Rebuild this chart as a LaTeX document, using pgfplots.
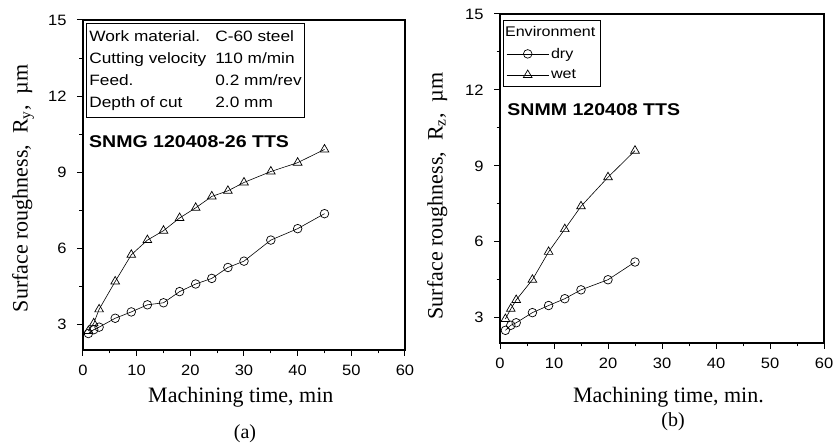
\documentclass[border=0pt]{standalone}
\usepackage{fontspec}
\setmainfont{Liberation Serif}
\setsansfont{Liberation Sans}
\newfontfamily\wsans[FakeStretch=1.15]{Liberation Sans}
\newfontfamily\tsans[FakeStretch=1.1]{Liberation Sans}
\usepackage{pgfplots}
\pgfplotsset{compat=1.18}
\pgfplotsset{
  roughaxis/.style={
    scale only axis,
    xmin=0, xmax=60, ymin=2, ymax=15,
    xtick={0,10,...,60}, ytick={3,6,9,12,15},
    minor xtick={5,15,...,55}, minor ytick={4.5,7.5,10.5,13.5},
    tick pos=left, tick align=outside,
    major tick length=6pt, minor tick length=3.5pt,
    axis line style={line width=1.3pt},
    every tick/.style={black, line width=1pt},
    ticklabel style={font=\tsans\fontsize{15}{15}\selectfont},
    yticklabel style={xshift=-7pt},
    xticklabel style={yshift=-5pt},
    /pgf/number format/assume math mode=true,
  },
  dryline/.style={black, line width=0.6pt, mark=o, mark size=4.3pt, mark options={solid, fill=white, line width=0.7pt}},
  wetline/.style={black, line width=0.6pt, mark=triangle, mark size=5pt, mark options={solid, fill=white, line width=0.7pt}},
}
\begin{document}
\begin{tikzpicture}
\useasboundingbox (0pt,0pt) rectangle (833pt,443pt);

% (a)
\begin{axis}[roughaxis,
    at={(83pt,93pt)}, anchor=south west, width=322pt, height=330pt,
    xlabel={Machining time, min},
    ylabel={Surface roughness,\ \ R\textsubscript{y},\ \ µm},
    every axis x label/.style={at={(axis description cs:0.49,-0.142)}, anchor=center,
      font=\fontsize{22}{22}\selectfont},
    every axis y label/.style={at={(axis description cs:-0.186,0.49)}, rotate=90, anchor=center,
      font=\fontsize{22}{22}\selectfont},
]
\addplot[dryline] coordinates {
  (1,2.65) (2,2.8) (3,2.9) (6,3.25) (9,3.5) (12,3.78) (15,3.86) (18,4.3)
  (21,4.6) (24,4.82) (27,5.25) (30,5.5) (35,6.33) (40,6.78) (45,7.37)
};
\addplot[wetline] coordinates {
  (1,2.75) (2,3.05) (3,3.6) (6,4.7) (9,5.75) (12,6.33) (15,6.7) (18,7.2)
  (21,7.6) (24,8.05) (27,8.27) (30,8.6) (35,9.03) (40,9.38) (45,9.9)
};
\node[draw, line width=1pt, anchor=north west, inner sep=3pt,
      font=\wsans\fontsize{15}{22}\selectfont]
  at (axis description cs:0.009,0.991) {%
  \begin{tabular}{@{}p{126pt}@{}l@{}}
  Work material. & C-60 steel\\
  Cutting velocity & 110 m/min\\
  Feed. & 0.2 mm/rev\\
  Depth of cut & 2.0 mm
  \end{tabular}};
\node[anchor=west, font=\wsans\bfseries\fontsize{17}{17}\selectfont]
  at (axis description cs:0.008,0.63) {SNMG 120408-26 TTS};
\end{axis}

% (b)
\begin{axis}[roughaxis,
    at={(500pt,100pt)}, anchor=south west, width=324pt, height=329pt,
    xlabel={Machining time, min.},
    ylabel={Surface roughness,\ \ R\textsubscript{z},\ \ µm},
    every axis x label/.style={at={(axis description cs:0.52,-0.164)}, anchor=center,
      font=\fontsize{22}{22}\selectfont},
    every axis y label/.style={at={(axis description cs:-0.194,0.447)}, rotate=90, anchor=center,
      font=\fontsize{22}{22}\selectfont},
    legend style={at={(axis description cs:0.009,0.982)}, anchor=north west,
      draw=black, line width=1pt, font=\wsans\fontsize{14}{14}\selectfont,
      inner xsep=3pt, inner ysep=4pt, row sep=6pt, cells={anchor=west}},
    legend image code/.code={\draw[mark repeat=2, mark phase=2]
      plot coordinates {(0pt,0pt) (21pt,0pt) (42pt,0pt)};},
]
\addlegendimage{empty legend}
\addlegendentry{\hspace{-46pt}Environment}
\addplot[dryline] coordinates {
  (1,2.5) (2,2.7) (3,2.8) (6,3.2) (9,3.48) (12,3.75) (15,4.1) (20,4.5) (25,5.2)
};
\addlegendentry{dry}
\addplot[wetline] coordinates {
  (1,2.95) (2,3.35) (3,3.7) (6,4.5) (9,5.6) (12,6.5) (15,7.4) (20,8.55) (25,9.6)
};
\addlegendentry{wet}
\node[anchor=west, font=\wsans\bfseries\fontsize{17}{17}\selectfont]
  at (axis description cs:0.012,0.708) {SNMM 120408 TTS};
\end{axis}

\node[font=\fontsize{20}{20}\selectfont] at (245pt,9pt) {(a)};
\node[font=\fontsize{20}{20}\selectfont] at (673pt,21pt) {(b)};
\end{tikzpicture}
\end{document}
